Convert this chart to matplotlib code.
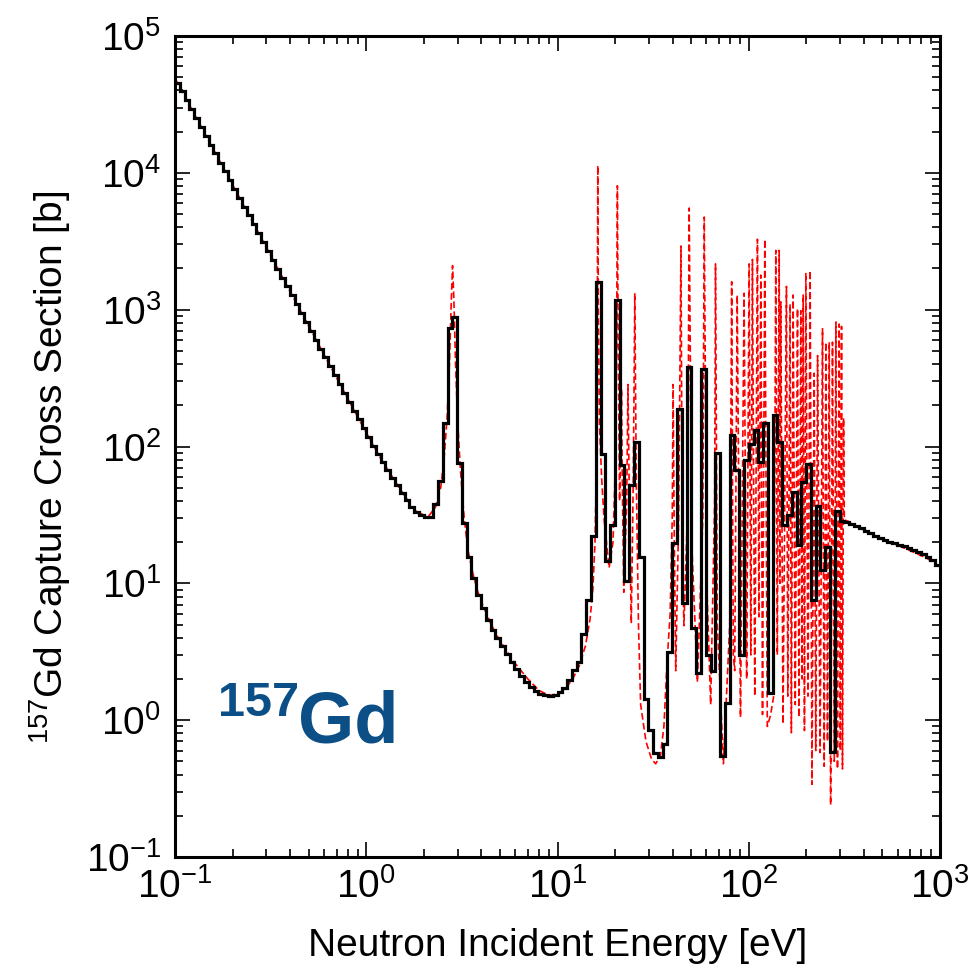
import numpy as np
import matplotlib
matplotlib.use("Agg")
import matplotlib.pyplot as plt
from matplotlib.ticker import LogLocator, FixedLocator, FuncFormatter, NullFormatter

# energy grid of the group-wise (black) cross section: 40 equal-lethargy bins per decade
e_min, e_max = 0.1, 1000.0
bins_per_decade = 40

x_decades = [0.1, 1, 10, 100, 1000]
y_decades = [0.1, 1, 10, 100, 1000, 1e4, 1e5]

# group-averaged capture cross section [b], one value per bin
group_xs = [
    45700, 39400, 33900, 29200, 25200, 21700, 18700, 16100, 13900, 11900,   # 0-9
    10300, 8850, 7620, 6580, 5660, 4880, 4200, 3620, 3120, 2690,            # 10-19
    2310, 1990, 1710, 1480, 1270, 1100, 944, 813, 701, 604,                 # 20-29
    520, 448, 386, 333, 286, 247, 212, 183, 158, 136,                       # 30-39
    117, 101, 88, 77, 67, 59, 52, 46, 41, 36,                               # 40-49
    33, 31.6, 30.5, 30.5, 38, 56, 148, 740, 890, 76,                        # 50-59
    27.5, 15.5, 11.0, 8.2, 6.6, 5.4, 4.55, 3.98, 3.47, 3.03,                # 60-69
    2.65, 2.36, 2.10, 1.90, 1.74, 1.63, 1.55, 1.52, 1.50, 1.53,             # 70-79
    1.61, 1.73, 1.96, 2.32, 2.67, 4.3, 7.5, 22, 1600, 88.5,                 # 80-89
    14.6, 26.6, 1180, 73, 10.4, 52, 107, 15.7, 1.42, 0.85,                  # 90-99
    0.58, 0.54, 0.67, 3.14, 19.7, 188, 7.2, 384, 4.7, 2.2,                  # 100-109
    369, 3.0, 2.3, 90, 0.55, 1.33, 121, 67, 3.0, 80,                        # 110-119
    105, 132, 77, 148, 1.57, 170, 108, 26.6, 31.5, 46.7,                    # 120-129
    19, 55, 75, 7.5, 37, 12.5, 18.5, 0.59, 34, 28.5,                        # 130-139
    28.0, 27.3, 26.3, 25.3, 24.3, 23.3, 22.3, 21.5, 20.8, 20.2,             # 140-149
    19.6, 19.1, 18.6, 18.2, 17.6, 16.9, 16.3, 15.6, 14.8, 13.6,             # 150-159
]

# pointwise cross section (red dashed): energy [eV] and value [b]
red_energy = [
    0.1, 0.15, 0.2, 0.3, 0.4, 0.5, 0.6, 0.7, 0.8, 1.0,
    1.2, 1.5, 1.8, 2.1, 2.3, 2.45, 2.55, 2.65, 2.72, 2.78,
    2.825, 2.87, 2.93, 3.0, 3.1, 3.25, 3.4, 3.6, 3.8, 4.0,
    4.5, 5.0, 6.0, 7.0, 8.0, 9.0, 10.0, 11.0, 12.0, 13.0,
    14.0, 14.8, 15.3, 15.7, 16.0, 16.15, 16.24, 16.35, 16.55, 17.0,
    17.5, 18.6, 19.5, 20.1, 20.4, 20.56, 20.75, 21.1, 21.45, 21.6,
    21.8, 22.2, 23.0, 23.35, 23.8, 24.3, 24.9, 25.35, 25.8, 26.5,
    27.2, 29, 31, 32.6, 34.5, 36, 37.3, 38.8, 39.8, 40.2,
    40.8, 41.5, 43.0, 44.2, 44.9, 45.8, 48.0, 48.8, 50.3, 53.9,
    57.5, 58.5, 60.3, 63.2, 66.3, 67.0, 68.5, 73.7, 79.5, 81.4,
    83.0, 84.4, 87.0, 90.5, 94.5, 97.5, 100.4, 102.5, 104.5, 107.5,
    111, 113, 115.6, 118, 121.3, 125, 130, 135, 138.5, 141,
    144.2, 145.5, 147.1, 151, 157.4, 160, 164.4, 167, 170.6, 175,
    179.8, 183, 187.2, 190, 192.5, 195.5, 198.8, 204, 209.4, 214,
    219.8, 224, 229, 236, 243, 248, 253, 258, 263.4, 268,
    274, 280, 285.5, 291, 297, 301, 305.5, 309, 313, 316,
    330, 400, 500, 600, 700, 850, 1000,
]
red_xs = [
    49000, 17200, 8170, 2860, 1355, 760, 473, 318, 224, 126,
    80, 49, 34, 30.5, 36, 50, 80, 170, 400, 1100,
    2100, 1200, 400, 160, 70, 30, 17.5, 12, 9, 7.3,
    5.0, 3.8, 2.6, 2.0, 1.65, 1.52, 1.55, 1.7, 2.0, 2.5,
    3.5, 5.5, 9, 20, 80, 1000, 11300, 1000, 150, 60,
    30, 13, 20, 80, 800, 8050, 600, 40, 100, 264,
    60, 8.6, 40, 284, 30, 5.1, 60, 1320, 60, 5,
    1.3, 0.7, 0.52, 0.48, 0.55, 0.9, 2.5, 6, 30, 284,
    20, 2.3, 30, 2920, 20, 4.9, 40, 5530, 20, 1.9,
    30, 4750, 10, 1.3, 40, 2160, 5, 0.48, 5, 1600,
    3, 2.3, 1280, 1.05, 1320, 2.0, 2160, 3.0, 2330, 1.5,
    3270, 5.7, 1790, 1.1, 3270, 0.9, 1.09, 1.5, 2710, 3,
    2710, 10, 1140, 0.94, 1480, 1.5, 1100, 0.81, 1280, 1.3,
    1020, 1.05, 982, 2, 1280, 0.84, 1860, 1.5, 1930, 0.34,
    343, 0.6, 462, 0.58, 726, 0.46, 579, 0.7, 579, 0.24,
    579, 0.5, 813, 0.44, 784, 0.6, 755, 0.44, 162, 29,
    28.5, 24.5, 21, 19, 17.3, 15.3, 13.2,
]

nuclide_mass = "157"
nuclide_sym = "Gd"
x_title = "Neutron Incident Energy [eV]"
y_title = r"$\mathregular{^{157}}$Gd Capture Cross Section [b]"
label_blue = "#0b4f86"

edges = np.logspace(np.log10(e_min), np.log10(e_max), 4 * bins_per_decade + 1)

plt.rcParams['font.family'] = ['Liberation Sans', 'DejaVu Sans']
plt.rcParams['mathtext.fontset'] = 'custom'
plt.rcParams['mathtext.rm'] = 'Liberation Sans'
plt.rcParams['mathtext.it'] = 'Liberation Sans:italic'
plt.rcParams['mathtext.bf'] = 'Liberation Sans:bold'


def decade_label(v, pos):
    return r"$\mathregular{10^{%d}}$" % round(np.log10(v))


fig = plt.figure(figsize=(9.73, 9.76), dpi=100)
ax = fig.add_axes([0.1799, 0.1219, 0.7862, 0.8412])

ax.plot(red_energy, red_xs, color="red", lw=1.2, ls=(0, (4, 2)), zorder=2)
ax.stairs(group_xs, edges, baseline=None, color="black", lw=2.3, zorder=3)

ax.set_xscale("log")
ax.set_yscale("log")
ax.set_xlim(e_min, e_max)
ax.set_ylim(y_decades[0], y_decades[-1])

for axis, majors in ((ax.xaxis, x_decades), (ax.yaxis, y_decades)):
    axis.set_major_locator(FixedLocator(majors))
    axis.set_minor_locator(LogLocator(base=10, subs=np.arange(2, 10), numticks=20))
    axis.set_major_formatter(FuncFormatter(decade_label))
    axis.set_minor_formatter(NullFormatter())

ax.tick_params(which="both", direction="in", top=True, right=True, width=1.2,
               labelsize=28)
ax.tick_params(which="major", length=11)
ax.tick_params(which="minor", length=5.5)
ax.tick_params(axis="y", pad=10)
ax.tick_params(axis="x", pad=8)
for sp in ax.spines.values():
    sp.set_linewidth(2.2)

ax.set_xlabel(x_title, fontsize=28)
ax.set_ylabel(y_title, fontsize=28)
ax.xaxis.set_label_coords(0.5, -0.087)
ax.yaxis.set_label_coords(-0.133, 0.475)

ax.text(0.056, 0.172, nuclide_mass, transform=ax.transAxes, fontsize=35,
        fontweight="bold", color=label_blue, ha="left", va="baseline")
ax.text(0.161, 0.140, nuclide_sym, transform=ax.transAxes, fontsize=52,
        fontweight="bold", color=label_blue, ha="left", va="baseline")

fig.savefig("out.png", dpi=100)
